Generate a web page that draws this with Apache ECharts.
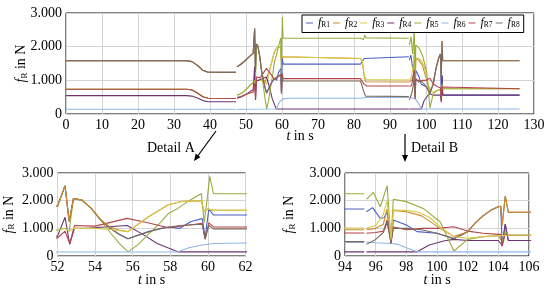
<!DOCTYPE html>
<html lang="en">
<head>
<meta charset="utf-8">
<title>Wheel forces</title>
<script src="https://cdn.jsdelivr.net/npm/echarts@6/dist/echarts.min.js"></script>
<style>
  html, body { margin: 0; padding: 0; background: #fff; }
  #main { width: 550px; height: 290px; }
</style>
</head>
<body>
<div id="main"></div>
<script type="text/javascript">
// series values, [t in s, f_R in N]; null = gap in the recording
const fR1 = [[0,1580],[33.5,1580],[35,1556],[36.5,1443],[38,1300],[39.5,1238],[47.2,1235],[47.35,null],
  [47.5,1400],[48.5,1470],[49.5,1560],[50.5,1660],[51.3,1740],[52,1800],[52.4,2540],[52.62,1250],[52.85,2080],[53.3,2020],[53.8,1720],[54.3,1300],[54.8,1000],[55.3,780],[55.75,620],[56.8,880],[57.9,1050],[58.5,1000],[59.1,1250],[59.7,1350],[59.85,650],[60.05,1700],[60.3,1480],
  [81.8,1480],[82.3,1520],[82.8,1650],[83.2,1700],[95.25,1700],[95.32,null],
  [95.4,1600],[95.8,1750],[96.3,1360],[96.55,1380],[96.75,1600],[97,460],[97.15,1300],[98,1120],[98.7,880],[100,820],[101.1,615],[102,880],[102.5,1200],[103,1450],[103.5,1650],[104,1780],[104.15,1800],[104.25,400],[104.45,1150],[104.65,560],[126,560]];
const fR2 = [[0,1580],[33.5,1580],[35,1556],[36.5,1443],[38,1300],[39.5,1238],[47.2,1235],[47.35,null],
  [47.5,1400],[48.5,1470],[49.5,1560],[50.5,1660],[51.3,1740],[52,1800],[52.4,2540],[52.62,1250],[52.85,2080],[53.3,2020],[53.8,1720],[54.3,1300],[54.8,1050],[55.3,930],[55.75,880],[56.8,1400],[57.9,1850],[58.6,1970],[59.65,2000],[59.8,1600],[60,1700],[60.3,1650],
  [81.8,1650],[82.3,1560],[82.8,1150],[83.2,960],[83.6,950],[95.25,950],[95.32,null],
  [95.4,950],[96,1000],[96.5,1150],[96.75,1700],[97,700],[97.15,1650],[98,1600],[99,1450],[100.2,1000],[101.1,700],[102,880],[102.5,1200],[103,1450],[103.5,1650],[104,1780],[104.15,1800],[104.25,1100],[104.45,2170],[104.65,1580],[126,1580]];
const fR3 = [[0,733],[33.5,733],[35,714],[36.5,626],[38,514],[39.5,466],[47.2,462],[47.35,null],
  [47.5,560],[48.5,600],[49.5,680],[50.5,780],[51.3,870],[52,940],[52.4,1000],[52.62,900],[52.85,1000],[54,1000],[54.8,960],[55.75,880],[56.8,1400],[57.9,1850],[58.6,1970],[59.65,2000],[59.8,1600],[60,1700],[60.3,1650],
  [81.8,1650],[82.3,1570],[82.8,1200],[83.2,1020],[83.6,1010],[95.25,1010],[95.32,null],
  [95.4,1000],[96,1100],[96.5,1500],[96.75,2000],[97,600],[97.15,1660],[98,1650],[98.8,1580],[99.5,1400],[100.2,1050],[101.1,700],[102,640],[103,700],[104,730],[104.2,740],[104.65,750],[126,750]];
const fR4 = [[0,545],[33.5,545],[35,532],[36.5,473],[38,398],[39.5,366],[47.2,364],[47.35,null],
  [47.5,470],[48.5,500],[49.5,560],[50.5,620],[51.3,680],[52,720],[52.4,1400],[52.65,420],[52.9,1000],[53.5,1000],[54.5,1050],[55.7,1100],[56.5,800],[57.3,450],[58.4,150],
  [95.25,150],[95.32,null],
  [95.4,150],[98.7,150],[99.5,400],[100.5,550],[101.1,600],[102,560],[104,560],[104.25,380],[104.45,1150],[104.65,560],[126,560]];
const fR5 = [[0,733],[33.5,733],[35,714],[36.5,626],[38,514],[39.5,466],[47.2,462],[47.35,null],
  [47.5,560],[48.5,600],[49.5,680],[50.5,780],[51.3,870],[52,940],[52.4,1000],[52.62,900],[52.85,2080],[53.3,2020],[53.8,1720],[54.3,1300],[54.8,850],[55.3,450],[55.75,150],[56.3,420],[56.8,760],[57.4,1150],[57.9,1540],[58.4,1720],[59,2000],[59.65,2260],[59.8,1200],[59.95,2000],[60.1,2880],[60.3,2250],
  [81.8,2250],[82.2,2200],[82.6,2210],[83,2340],[83.4,2260],[83.8,2250],[95.25,2250],[95.32,null],
  [95.4,2050],[95.85,2300],[96.3,1780],[96.75,2540],[97,520],[97.15,2050],[98,1965],[99.1,1720],[100.2,1240],[101.1,180],[102,600],[103,700],[104,730],[104.25,520],[104.45,900],[104.65,750],[126,750]];
const fR6 = [[0,139],[47.2,139],[47.35,null],
  [47.5,140],[58.4,150],[59,300],[59.7,400],[60.3,450],[62,470],[81.8,470],[83.2,490],[95.25,490],[95.32,null],
  [95.4,500],[96,480],[97,450],[97.5,420],[98,300],[98.7,150],[126,150]];
const fR7 = [[0,733],[33.5,733],[35,714],[36.5,626],[38,514],[39.5,466],[47.2,462],[47.35,null],
  [47.5,500],[48.5,520],[49.5,560],[50.5,600],[51.3,630],[52,650],[52.4,900],[52.65,450],[52.9,1100],[54,1080],[55.7,1360],[56.8,1200],[57.9,1020],[59,1120],[59.7,1180],[59.85,600],[60.05,1200],[60.3,1050],
  [81.8,1050],[82.3,1010],[82.8,880],[83.2,835],[83.6,830],[95.25,830],[95.32,null],
  [95.4,820],[96,850],[96.5,900],[96.75,1300],[97,450],[97.15,1050],[98,950],[99,1000],[100,1000],[101.1,1060],[102,900],[103,820],[104,780],[104.15,780],[104.25,350],[104.45,800],[104.65,750],[126,750]];
const fR8 = [[0,1580],[33.5,1580],[35,1556],[36.5,1443],[38,1300],[39.5,1238],[47.2,1235],[47.35,null],
  [47.5,1400],[48.5,1470],[49.5,1560],[50.5,1660],[51.3,1740],[52,1800],[52.4,2540],[52.62,1250],[52.85,2080],[53.3,2020],[53.8,1720],[54.3,1300],[54.8,1000],[55.3,780],[55.75,620],[56.5,800],[57.5,1000],[58.5,1100],[59.7,1150],[59.85,620],[60.05,1100],[60.3,980],
  [81.8,980],[82.3,930],[82.8,640],[83.2,530],[83.6,520],[95.25,520],[95.32,null],
  [95.4,420],[96,600],[96.5,850],[96.75,1200],[97,500],[97.15,1000],[98,1000],[99,950],[100,820],[101.1,640],[102,880],[102.5,1200],[103,1450],[103.5,1650],[104,1780],[104.15,1800],[104.25,1100],[104.45,2170],[104.65,1580],[126,1580]];

const seriesNames = ['R1', 'R2', 'R3', 'R4', 'R5', 'R6', 'R7', 'R8'];
const seriesData = [fR1, fR2, fR3, fR4, fR5, fR6, fR7, fR8];
const colors = ['#4a5ec6', '#cf8a2c', '#d6ca4c', '#6e3470', '#9bab3c', '#90b6ea', '#b4454a', '#7d6a5e'];

const xMain = [0, 130, 10];
const xDetailA = [52, 62, 2];
const xDetailB = [94, 106, 2];

const FONT = 'Liberation Serif';
let chart = echarts.init(document.getElementById('main'));

const rich = {
  f: { fontFamily: FONT, fontStyle: 'italic', fontSize: 14, color: '#000' },
  s: { fontFamily: FONT, fontSize: 9, color: '#000', padding: [6, 0, 0, 0] },
  n: { fontFamily: FONT, fontSize: 14, color: '#000' }
};

function yLabel(v) {
  return v === 0 ? '0' : (v / 1000) + '.000';
}

let grids = [
  { left: 66, right: 16, top: 13, height: 101, show: true, borderColor: '#000', borderWidth: 1 },
  { left: 57.5, width: 188, top: 173, height: 83, show: true, borderColor: '#000', borderWidth: 1 },
  { left: 345, width: 184, top: 173, height: 83, show: true, borderColor: '#000', borderWidth: 1 }
];
const xRanges = [xMain, xDetailA, xDetailB];
const yNameGap = [37, 41, 48];
const xNameGap = [15, 17, 17];

let xAxes = xRanges.map((r, i) => ({
  type: 'value', gridIndex: i, min: r[0], max: r[1], interval: r[2],
  axisLine: { show: false }, axisTick: { show: false },
  splitLine: { show: true, lineStyle: { color: '#d4d4d4', width: 1 } },
  axisLabel: { fontFamily: FONT, fontSize: 14, color: '#000', margin: 4 },
  name: '{f|t}{n| in s}', nameLocation: 'middle', nameGap: xNameGap[i],
  nameMoveOverlap: false,
  nameTextStyle: { rich: rich }
}));

let yAxes = grids.map((g, i) => ({
  type: 'value', gridIndex: i, min: 0, max: 3000, interval: 1000,
  axisLine: { show: false }, axisTick: { show: false },
  splitLine: { show: true, lineStyle: { color: '#d4d4d4', width: 1 } },
  axisLabel: { fontFamily: FONT, fontSize: 14, color: '#000', margin: 4, formatter: yLabel },
  name: '{f|f}{s|R}{n| in N}', nameLocation: 'middle', nameGap: yNameGap[i], nameRotate: 90,
  nameMoveOverlap: false,
  nameTextStyle: { rich: rich }
}));

let series = [];
for (let g = 0; g < 3; g++) {
  seriesData.forEach((d, k) => {
    series.push({
      name: seriesNames[k], type: 'line', xAxisIndex: g, yAxisIndex: g,
      data: d, symbol: 'none', clip: true, connectNulls: false,
      z: (g > 0 && (k === 1 || k === 2)) ? 3 : 2,
      lineStyle: { width: 1.1, color: colors[k] },
      itemStyle: { color: colors[k] }
    });
  });
}

// arrows and captions between the main chart and the details
let graphics = [
  { type: 'line', shape: { x1: 216, y1: 131, x2: 197, y2: 157 }, style: { stroke: '#000', lineWidth: 1.2 } },
  { type: 'polygon', shape: { points: [[194, 161], [200.5, 157.2], [195.7, 153.6]] }, style: { fill: '#000' } },
  { type: 'text', left: 147, top: 141, style: { text: 'Detail A', font: '14px "Liberation Serif"', fill: '#000' } },
  { type: 'line', shape: { x1: 405, y1: 134, x2: 405, y2: 156 }, style: { stroke: '#000', lineWidth: 1.2 } },
  { type: 'polygon', shape: { points: [[405, 162], [402, 155], [408, 155]] }, style: { fill: '#000' } },
  { type: 'text', left: 411, top: 141, style: { text: 'Detail B', font: '14px "Liberation Serif"', fill: '#000' } }
];

let option = {
  animation: false,
  backgroundColor: '#fff',
  legend: {
    data: seriesNames, left: 302, top: 15, orient: 'horizontal',
    icon: 'rect', itemWidth: 7, itemHeight: 1, itemGap: 3,
    padding: [2, 4, 3, 4], borderColor: '#000', borderWidth: 1,
    backgroundColor: '#fff',
    formatter: (name) => '{f|f}{s|' + name + '}',
    textStyle: {
      rich: {
        f: { fontFamily: FONT, fontStyle: 'italic', fontSize: 12, color: '#000' },
        s: { fontFamily: FONT, fontSize: 7.5, color: '#000', padding: [5, 0, 0, 0] }
      }
    }
  },
  grid: grids,
  xAxis: xAxes,
  yAxis: yAxes,
  series: series,
  graphic: graphics
};

chart.setOption(option);
</script>
</body>
</html>
